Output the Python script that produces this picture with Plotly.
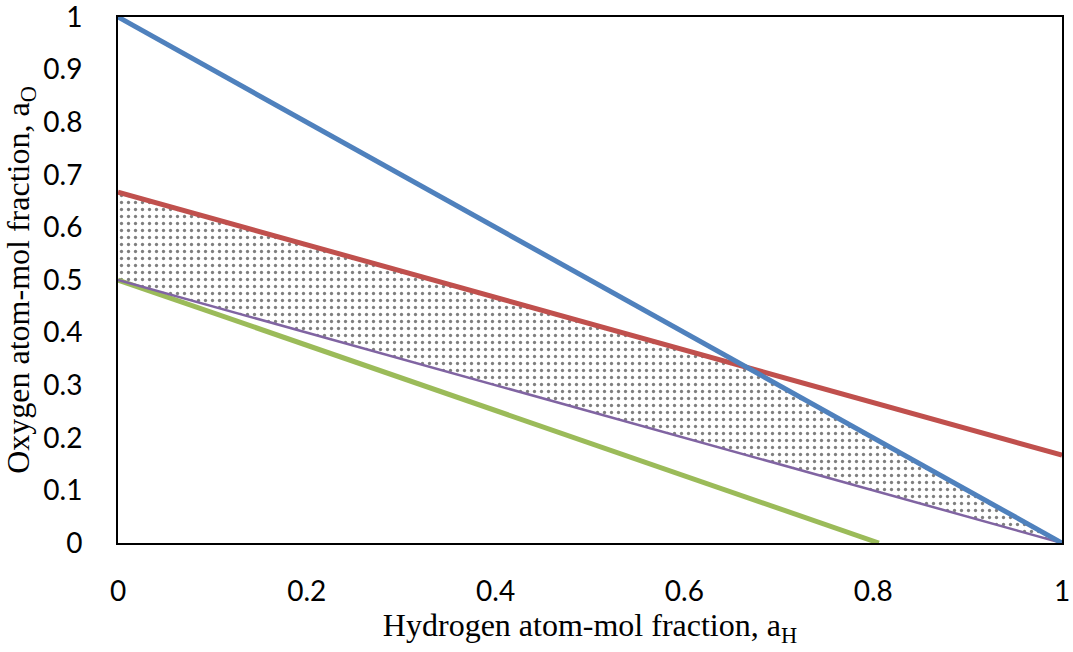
import plotly.graph_objects as go

# Line endpoints (x = hydrogen atom-mol fraction, y = oxygen atom-mol fraction)
blue_x = [0, 1]
blue_y = [1, 0]
red_x = [0, 1]
red_y = [0.667, 0.167]
purple_x = [0, 1]
purple_y = [0.5, 0]
green_x = [0, 0.806]
green_y = [0.5, 0]

# Shaded feasible region (red top, blue right, purple bottom)
region_x = [0, 0.667, 1, 0, 0]
region_y = [0.667, 0.333, 0, 0.5, 0.667]

tick_vals = [0, 0.1, 0.2, 0.3, 0.4, 0.5, 0.6, 0.7, 0.8, 0.9, 1]
x_tick_vals = [0, 0.2, 0.4, 0.6, 0.8, 1]

fig = go.Figure()

fig.add_trace(go.Scatter(
    x=region_x, y=region_y, mode="lines", line=dict(width=0),
    fill="toself", fillcolor="white",
    fillpattern=dict(shape=".", fgcolor="black", bgcolor="white", size=7, solidity=0.17),
    hoverinfo="skip", showlegend=False))

fig.add_trace(go.Scatter(x=green_x, y=green_y, mode="lines",
                         line=dict(color="#9BBB59", width=5), showlegend=False))
fig.add_trace(go.Scatter(x=purple_x, y=purple_y, mode="lines",
                         line=dict(color="#8064A2", width=2.5), showlegend=False))
fig.add_trace(go.Scatter(x=red_x, y=red_y, mode="lines",
                         line=dict(color="#C0504D", width=5), showlegend=False))
fig.add_trace(go.Scatter(x=blue_x, y=blue_y, mode="lines",
                         line=dict(color="#4F81BD", width=5), showlegend=False))

tick_font = dict(family="Lato", size=28, color="black")
title_font = dict(family="Liberation Serif", size=32, color="black")

def fmt(v):
    return str(int(v)) if v in (0, 1) else str(v)

fig.update_layout(
    width=1073, height=652,
    margin=dict(l=118, r=11, t=17, b=109),
    paper_bgcolor="white", plot_bgcolor="white",
    xaxis=dict(range=[0, 1], tickvals=x_tick_vals, ticktext=[fmt(v) for v in x_tick_vals],
               showgrid=False, zeroline=False, showline=True, linecolor="black", linewidth=2,
               mirror=True, ticks="", ticklabelstandoff=22, tickfont=tick_font,
               ticklabeloverflow="allow", automargin=False,
               title=dict(text="Hydrogen atom-mol fraction, a<sub>H</sub>", font=title_font, standoff=8)),
    yaxis=dict(range=[0, 1], tickvals=tick_vals, ticktext=[fmt(v) for v in tick_vals],
               showgrid=False, zeroline=False, showline=True, linecolor="black", linewidth=2,
               mirror=True, ticks="", ticklabelstandoff=28, tickfont=tick_font,
               ticklabeloverflow="allow", automargin=False,
               title=dict(text="Oxygen atom-mol fraction, a<sub>O</sub>", font=title_font, standoff=4)),
)

fig.write_html("out.html")
